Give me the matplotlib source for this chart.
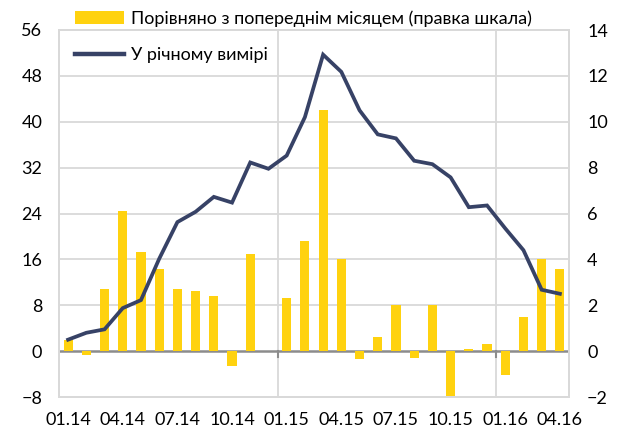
import numpy as np
import matplotlib
matplotlib.use("Agg")
import matplotlib.pyplot as plt
from matplotlib.patches import Patch
from matplotlib.lines import Line2D

plt.rcParams['font.family'] = ['Lato', 'DejaVu Sans']

# Дані
months = ['01.14', '02.14', '03.14', '04.14', '05.14', '06.14', '07.14', '08.14',
          '09.14', '10.14', '11.14', '12.14', '01.15', '02.15', '03.15', '04.15',
          '05.15', '06.15', '07.15', '08.15', '09.15', '10.15', '11.15', '12.15',
          '01.16', '02.16', '03.16', '04.16']
yoy = [2.0, 3.2, 3.8, 7.5, 8.9, 16.1, 22.5, 24.3, 26.9, 25.9, 32.9, 31.8,
       34.1, 40.8, 51.7, 48.7, 42.0, 37.8, 37.1, 33.2, 32.6, 30.3, 25.1, 25.4,
       21.4, 17.6, 10.7, 10.0]
mom = [0.5, -0.15, 2.7, 6.1, 4.3, 3.6, 2.7, 2.6, 2.4, -0.65, 4.25, 0.0,
       2.3, 4.8, 10.5, 4.0, -0.35, 0.6, 2.0, -0.3, 2.0, -2.05, 0.1, 0.3,
       -1.05, 1.5, 4.0, 3.6]
tick_labels = months[::3]

yellow = '#FFD20F'
navy = '#374266'
grid_c = '#D9D9D9'

x = np.arange(len(months))

fig = plt.figure(figsize=(6.24, 4.32), dpi=100)
ax = fig.add_axes([59 / 624, 1 - 397 / 432, 510 / 624, 367 / 432])
ax2 = ax.twinx()

# Стовпці (права шкала)
ax2.bar(x, mom, width=0.5, color=yellow, zorder=2)
ax2.set_ylim(-2, 14)
ax2.set_yticks(np.arange(-2, 15, 2))

# Лінія (ліва шкала)
ax.set_zorder(ax2.get_zorder() + 1)
ax.patch.set_visible(False)
ax.plot(x, yoy, color=navy, lw=2.7, solid_joinstyle='miter', zorder=3)
ax.set_ylim(-8, 56)
ax.set_yticks(np.arange(-8, 57, 8))
ax.set_xlim(-0.5, len(months) - 0.5)

# Сітка
for v in np.arange(-8, 57, 8):
    if v != 0:
        ax2.axhline(v / 4, color=grid_c, lw=1.3, zorder=0)
for xv in [11.5, 23.5]:
    ax2.axvline(xv, color=grid_c, lw=1.3, zorder=0)
    ax.plot([xv, xv], [0, -1.0], color='#8C8C8C', lw=1.5, zorder=1)
ax2.axhline(0, color='#8C8C8C', lw=1.8, zorder=1)

ax.set_xticks(x[::3])
ax.set_xticklabels(tick_labels)
ax.tick_params(axis='x', length=0, pad=11, labelsize=13, colors='#000000')
ax.tick_params(axis='y', length=0, pad=12, labelsize=13)
ax2.tick_params(axis='y', length=0, pad=13, labelsize=13)
ax2.tick_params(axis='x', length=0)

for a in (ax, ax2):
    for s in a.spines.values():
        s.set_color(grid_c)
        s.set_linewidth(1.3)

handles = [Patch(facecolor=yellow, edgecolor='none'),
           Line2D([0], [0], color=navy, lw=3.2)]
labels = ['Порівняно з попереднім місяцем (правка шкала)', 'У річному вимірі']
leg = fig.legend(handles, labels, loc='upper left',
                 bbox_to_anchor=(75 / 624, 1 - 10 / 432),
                 bbox_transform=fig.transFigure, frameon=False,
                 fontsize=13, borderpad=0, borderaxespad=0,
                 handlelength=2.7, handleheight=0.7, handletextpad=0.4,
                 labelspacing=1.15)
leg.set_zorder(10)

fig.savefig('out.png', dpi=100)
